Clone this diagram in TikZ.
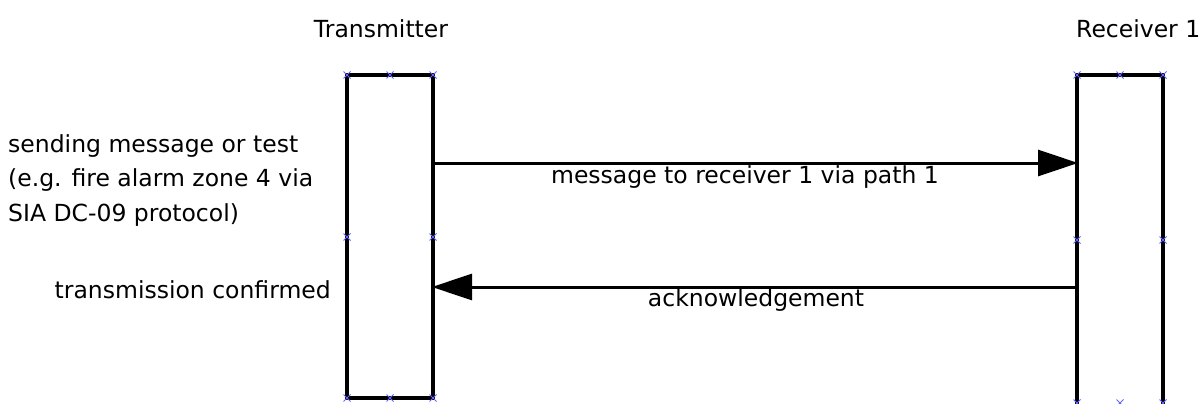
\documentclass[tikz,border=0pt]{standalone}
\usepackage{fontspec}
\setmainfont{DejaVu Sans}
\usetikzlibrary{arrows.meta}
\begin{document}
\begin{tikzpicture}[x=1pt,y=-1pt,
  lifeline/.style={draw=black,line width=3.6pt,fill=white},
  msg/.style={line width=3pt,-{Triangle[length=40pt,width=26pt]},shorten >=-1pt},
  lbl/.style={font=\fontsize{23.5}{34.5}\selectfont,inner sep=0pt},
  handle/.style={draw=blue!60,line width=0.9pt}]
\useasboundingbox (0,0) rectangle (1204,404);
% lifelines
\draw[lifeline] (347,75) rectangle (433,398);
\draw[lifeline] (1077,75) rectangle (1163,406);
\coordinate (tx) at (433,163);
\coordinate (rx) at (1077,163);
\coordinate (tx2) at (433,287);
\coordinate (rx2) at (1077,287);
% handles
\foreach \p in {(347,75),(390,75),(433,75),(347,398),(390,398),(433,398),(347,237),(433,237),
                (1077,75),(1120,75),(1163,75),(1077,240),(1163,240),(1077,403),(1120,403),(1163,403)}{
  \draw[handle] \p ++(-3.5,-3.5) -- ++(7,7) \p ++(-3.5,3.5) -- ++(7,-7);
}
% titles
\node[lbl] (tt) at (381,29) {Transmitter};
\node[lbl,anchor=west] (rt) at (1076,29) {Receiver 1};
% messages
\draw[msg] (tx) -- (rx);
\draw[msg] (rx2) -- (tx2);
\node[lbl] (m1) at (745,177) {message to receiver 1 via path 1};
\node[lbl] (m2) at (756,300) {acknowledgement};
% left notes
\node[lbl,anchor=north west,align=left] (n1) at (8,134) {sending message or test\\(e.g. fire alarm zone 4 via\\SIA DC-09 protocol)};
\node[lbl,anchor=east] (n2) at (331,290) {transmission confirmed};
\end{tikzpicture}
\end{document}
